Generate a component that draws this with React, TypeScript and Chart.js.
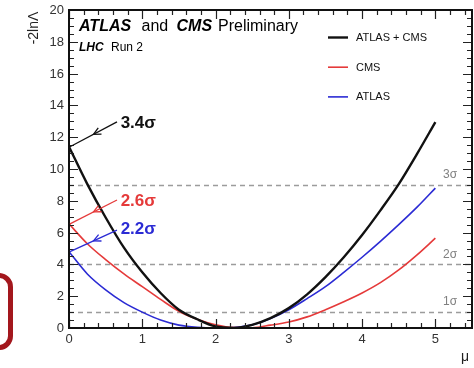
import React, { useEffect, useRef } from "react";
import { Chart, registerables } from "chart.js";

Chart.register(...registerables);

// ---- data ----
const MU = [0, 0.25, 0.5, 0.75, 1, 1.25, 1.5, 1.75, 2, 2.25, 2.5, 2.75, 3, 3.25, 3.5, 3.75, 4, 4.25, 4.5, 4.75, 5];
const COMBINED = [11.4, 9.05, 6.95, 5.05, 3.5, 2.2, 1.15, 0.55, 0.1, 0.01, 0.2, 0.62, 1.25, 2.12, 3.2, 4.45, 5.85, 7.4, 9.05, 10.95, 12.95];
const CMS = [6.55, 5.3, 4.3, 3.4, 2.6, 1.8, 1.05, 0.55, 0.2, 0.03, 0.02, 0.18, 0.38, 0.7, 1.15, 1.65, 2.2, 2.85, 3.65, 4.6, 5.65];
const ATLAS = [4.8, 3.4, 2.4, 1.6, 1.0, 0.5, 0.18, 0.04, 0.0, 0.03, 0.2, 0.6, 1.15, 1.85, 2.6, 3.5, 4.45, 5.45, 6.5, 7.6, 8.8];

const SERIES_LABELS = ["ATLAS + CMS", "CMS", "ATLAS"];
const SIGNIFICANCE = ["3.4σ", "2.6σ", "2.2σ"];
const X_TICKS = [0, 1, 2, 3, 4, 5];
const Y_TICKS = [0, 2, 4, 6, 8, 10, 12, 14, 16, 18, 20];
const SIGMA_LEVELS = [1, 4, 9];
const SIGMA_LABELS = ["1σ", "2σ", "3σ"];

// ---- styles ----
const FONT = '"Liberation Sans", Arial, Helvetica, sans-serif';
const COLORS = ["#111111", "#e53a3a", "#2b2bd4"];
const WIDTHS = [2.4, 1.6, 1.6];
const X_MAX = 5.5;
const Y_MAX = 20;

const decor = {
  id: "decor",
  beforeDatasetsDraw(chart: any) {
    const { ctx, chartArea: a, scales } = chart;
    const y = scales.y;
    ctx.save();
    ctx.strokeStyle = "#9c9c9c";
    ctx.lineWidth = 1.5;
    ctx.setLineDash([5, 4]);
    SIGMA_LEVELS.forEach((v) => {
      const py = Math.round(y.getPixelForValue(v)) + 0.5;
      ctx.beginPath();
      ctx.moveTo(a.left, py);
      ctx.lineTo(a.right, py);
      ctx.stroke();
    });
    ctx.setLineDash([]);
    ctx.fillStyle = "#808080";
    ctx.font = `12px ${FONT}`;
    ctx.textAlign = "center";
    ctx.textBaseline = "middle";
    SIGMA_LEVELS.forEach((v, i) => {
      ctx.fillText(SIGMA_LABELS[i], scales.x.getPixelForValue(5.2), y.getPixelForValue(v) - 10);
    });
    ctx.restore();
  },
  afterDraw(chart: any) {
    const { ctx, chartArea: a, scales } = chart;
    const x = scales.x;
    const y = scales.y;
    ctx.save();

    // ticks (inward, all four sides)
    ctx.strokeStyle = "#222";
    ctx.lineWidth = 1.2;
    for (let k = 0; k <= 27; k++) {
      const v = k * 0.2;
      const major = k % 5 === 0;
      const len = major ? 9 : 5;
      const px = Math.round(x.getPixelForValue(v)) + 0.5;
      ctx.beginPath();
      ctx.moveTo(px, a.bottom);
      ctx.lineTo(px, a.bottom - len);
      ctx.moveTo(px, a.top);
      ctx.lineTo(px, a.top + len);
      ctx.stroke();
    }
    for (let k = 0; k <= 40; k++) {
      const v = k * 0.5;
      const major = k % 4 === 0;
      const len = major ? 9 : 5;
      const py = Math.round(y.getPixelForValue(v)) + 0.5;
      ctx.beginPath();
      ctx.moveTo(a.left, py);
      ctx.lineTo(a.left + len, py);
      ctx.moveTo(a.right, py);
      ctx.lineTo(a.right - len, py);
      ctx.stroke();
    }

    // frame
    ctx.strokeStyle = "#111";
    ctx.lineWidth = 2;
    ctx.strokeRect(a.left, a.top, a.right - a.left, a.bottom - a.top);

    // tick labels
    ctx.fillStyle = "#333";
    ctx.font = `13px ${FONT}`;
    ctx.textAlign = "right";
    ctx.textBaseline = "middle";
    Y_TICKS.forEach((v) => ctx.fillText(String(v), a.left - 5, y.getPixelForValue(v) + 0.5));
    ctx.textAlign = "center";
    X_TICKS.forEach((v) => ctx.fillText(String(v), x.getPixelForValue(v), a.bottom + 11));

    // axis titles
    ctx.fillStyle = "#222";
    ctx.font = `14px ${FONT}`;
    ctx.fillText("μ", 465, a.bottom + 29);
    ctx.save();
    ctx.translate(a.left - 35, a.top + 18);
    ctx.rotate(-Math.PI / 2);
    ctx.textAlign = "center";
    ctx.fillText("-2lnΛ", 0, 0);
    ctx.restore();

    // header text
    ctx.fillStyle = "#000";
    ctx.textAlign = "left";
    ctx.textBaseline = "middle";
    const tx = a.left + 10;
    const ty = a.top + 17;
    ctx.font = `bold italic 16px ${FONT}`;
    ctx.fillText("ATLAS", tx, ty);
    ctx.font = `16px ${FONT}`;
    ctx.fillText("and", tx + 62.5, ty);
    ctx.font = `bold italic 16px ${FONT}`;
    ctx.fillText("CMS", tx + 97.5, ty);
    ctx.font = `16px ${FONT}`;
    ctx.fillText("Preliminary", tx + 139, ty);
    ctx.font = `bold italic 12px ${FONT}`;
    ctx.fillText("LHC", tx, a.top + 37.5);
    ctx.font = `12px ${FONT}`;
    ctx.fillText("Run 2", tx + 32, a.top + 37.5);

    // legend
    const datasets = chart.data.datasets;
    datasets.forEach((ds: any, i: number) => {
      const ly = a.top + 27.5 + i * 29.7;
      ctx.strokeStyle = ds.borderColor;
      ctx.lineWidth = ds.borderWidth;
      ctx.beginPath();
      ctx.moveTo(328, ly);
      ctx.lineTo(348, ly);
      ctx.stroke();
      ctx.fillStyle = "#111";
      ctx.font = `11px ${FONT}`;
      ctx.fillText(ds.label, 356, ly + 0.5);
    });

    // significance annotations with arrows
    const starts = [COMBINED[0], CMS[0], ATLAS[0]];
    const textY = [12.87, 7.96, 6.19];
    const arrowY = [12.96, 8.05, 6.16];
    datasets.forEach((ds: any, i: number) => {
      const ex = x.getPixelForValue(MU[0]) + 1;
      const ey = y.getPixelForValue(starts[i]);
      const sx = x.getPixelForValue(0.655);
      const sy = y.getPixelForValue(arrowY[i]);
      ctx.strokeStyle = ds.borderColor;
      ctx.lineWidth = 1.3;
      ctx.beginPath();
      ctx.moveTo(sx, sy);
      ctx.lineTo(ex, ey);
      ctx.stroke();
      const ang = Math.atan2(ey - sy, ex - sx);
      const mx = (sx + ex) / 2;
      const my = (sy + ey) / 2;
      const hl = 8;
      ctx.beginPath();
      ctx.moveTo(mx - hl * Math.cos(ang - 0.45), my - hl * Math.sin(ang - 0.45));
      ctx.lineTo(mx, my);
      ctx.lineTo(mx - hl * Math.cos(ang + 0.45), my - hl * Math.sin(ang + 0.45));
      ctx.stroke();
      ctx.fillStyle = ds.borderColor;
      ctx.font = `bold 17px ${FONT}`;
      ctx.textAlign = "left";
      ctx.textBaseline = "middle";
      ctx.fillText(SIGNIFICANCE[i], x.getPixelForValue(0.705), y.getPixelForValue(textY[i]));
    });

    ctx.restore();
  },
};

export default function App() {
  const ref = useRef<HTMLCanvasElement | null>(null);

  useEffect(() => {
    if (!ref.current) return;
    const series = [COMBINED, CMS, ATLAS];
    const chart = new Chart(ref.current, {
      type: "line",
      data: {
        datasets: series.map((vals, i) => ({
          label: SERIES_LABELS[i],
          data: MU.map((m, j) => ({ x: m, y: vals[j] })),
          borderColor: COLORS[i],
          borderWidth: WIDTHS[i],
          pointRadius: 0,
          fill: false,
          cubicInterpolationMode: "monotone" as const,
        })),
      },
      options: {
        responsive: false,
        animation: false,
        events: [],
        layout: { padding: { left: 69, right: 2, top: 10, bottom: 40 } },
        scales: {
          x: { type: "linear", min: 0, max: X_MAX, display: false },
          y: { type: "linear", min: 0, max: Y_MAX, display: false },
        },
        plugins: { legend: { display: false }, tooltip: { enabled: false } },
      },
      plugins: [decor],
    });
    return () => chart.destroy();
  }, []);

  return (
    <div style={{ position: "fixed", left: 0, top: 0, width: 474, height: 368, background: "#fff", overflow: "hidden" }}>
      <canvas ref={ref} width={474} height={368} style={{ position: "absolute", left: 0, top: 0 }} />
      <div
        style={{
          position: "absolute",
          left: -30,
          top: 273,
          width: 33,
          height: 67,
          border: "5px solid #a3171d",
          borderRadius: 14,
        }}
      />
    </div>
  );
}
